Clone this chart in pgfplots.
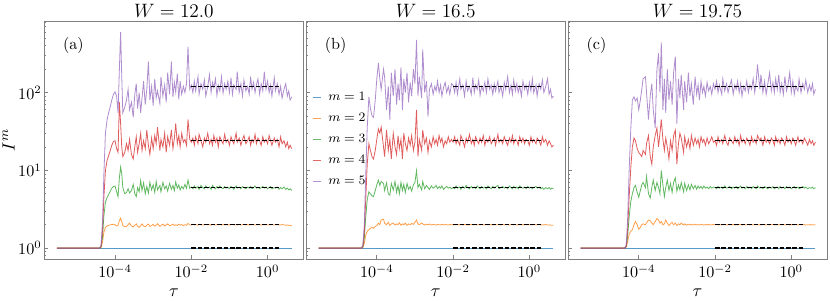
\documentclass[border=0pt]{standalone}
\usepackage{pgfplots}
\usepackage{pgfplotstable}
\pgfplotsset{compat=1.18}
\definecolor{cB}{HTML}{1F77B4}
\definecolor{cO}{HTML}{FF7F0E}
\definecolor{cG}{HTML}{2CA02C}
\definecolor{cR}{HTML}{D62728}
\definecolor{cP}{HTML}{9467BD}
\tikzset{cv/.style={line width=0.5pt, opacity=0.75},
  dsh/.style={black, line width=0.9pt, dash pattern=on 2.8pt off 1.2pt}}

\pgfplotstableread{
t m2 m3 m4 m5
3e-6 1 1 1 1
3.9e-5 1 1 1 1
4.3e-5 1.02 1.04 1.06 1.08
4.7e-5 1.2 1.4 1.7 2.2
5.1e-5 1.6 2.6 4.5 9
5.6e-5 1.85 3.9 10 30
6.2e-5 1.93 4.5 13.5 45
6.8e-5 1.96 4.9 15.5 55
7.5e-5 1.99 5.4 18 66
8.2e-5 2.01 5.9 21 80
9.1e-5 2.03 6.2 23.5 95
1.0e-4 2.0 6.3 24 102
1.1e-4 1.93 5.3 19 90
1.2e-4 1.95 4.6 17 55
1.3e-4 2.25 8 75 200
1.4e-4 2.43 11 40 600
1.5e-4 2.2 9 20 160
1.6e-4 1.95 6 15 55
1.8e-4 1.88 5.0 17 65
2.0e-4 1.9 5.2 22 80
2.2e-4 2.0 5.8 18 110
2.4e-4 2.1 5.1 25 60
2.7e-4 1.92 5.5 16 75
3.0e-4 1.88 6.6 14 48
3.3e-4 1.97 5.0 20 95
3.6e-4 2.05 4.6 27 130
3.9e-4 1.9 6.0 17 62
4.3e-4 1.85 5.3 22 100
4.7e-4 1.95 7.4 30 55
5.1e-4 2.05 5.5 18 85
5.6e-4 1.92 6.9 24 140
6.2e-4 1.88 5.0 19 70
6.8e-4 1.98 6.2 33 110
7.5e-4 2.04 5.1 21 250
8.2e-4 1.9 7.0 16 80
9.1e-4 1.95 5.6 26 120
1.0e-3 2.02 6.5 19 68
1.1e-3 1.92 5.2 28 150
1.2e-3 1.97 7.2 22 85
1.3e-3 2.06 5.6 36 105
1.5e-3 1.9 6.4 18 72
1.6e-3 1.96 5.3 25 160
1.8e-3 2.03 7.0 20 90
2.0e-3 1.93 5.8 30 125
2.2e-3 1.99 6.3 17 75
2.4e-3 2.05 5.4 27 180
2.7e-3 1.94 6.8 21 95
3.0e-3 1.98 5.7 33 250
3.3e-3 2.04 6.4 19 88
3.6e-3 1.95 5.5 26 135
3.9e-3 2.0 7.1 40 102
4.3e-3 1.96 5.9 22 175
4.7e-3 2.03 6.5 28 82
5.1e-3 1.97 5.6 20 140
5.6e-3 2.01 6.2 30 95
6.2e-3 1.95 5.8 23 120
6.8e-3 2.0 6.6 25 100
7.5e-3 1.97 5.9 21 130
8.2e-3 2.08 7.5 45 390
9.1e-3 1.98 5.9 25 110
1.0e-2 1.99 6.1 23 125
1.1e-2 2.02 5.8 26 100
1.2e-2 1.98 6.3 21 140
1.3e-2 2.01 5.9 27 105
1.5e-2 1.97 6.2 22 160
1.6e-2 2.03 5.7 29 95
1.8e-2 1.99 6.4 24 130
2.0e-2 2.0 6.0 20 110
2.2e-2 1.98 5.8 26 145
2.4e-2 2.02 6.3 23 90
2.7e-2 1.99 5.9 30 120
3.0e-2 2.01 6.1 22 170
3.3e-2 1.97 5.7 25 100
3.6e-2 2.02 6.4 21 135
3.9e-2 2.0 6.0 28 115
4.3e-2 1.98 5.8 23 150
4.7e-2 2.01 6.2 26 92
5.1e-2 1.99 5.9 20 125
5.6e-2 2.02 6.3 27 105
6.2e-2 1.98 6.0 24 160
6.8e-2 2.01 5.8 22 98
7.5e-2 1.99 6.2 29 130
8.2e-2 2.0 5.9 23 110
9.1e-2 1.98 6.1 25 140
1.0e-1 2.01 5.8 21 100
1.1e-1 1.99 6.2 27 155
1.2e-1 2.02 6.0 24 95
1.3e-1 1.98 5.7 22 125
1.5e-1 2.0 6.3 30 110
1.6e-1 1.99 5.9 23 185
1.8e-1 2.01 6.1 26 100
2.0e-1 1.98 5.8 21 130
2.2e-1 2.0 6.2 25 90
2.4e-1 2.02 6.0 28 145
2.7e-1 1.99 5.8 22 105
3.0e-1 2.01 6.1 24 120
3.3e-1 1.98 5.9 27 95
3.6e-1 2.0 6.2 21 160
3.9e-1 1.99 5.8 25 110
4.3e-1 2.01 6.0 23 135
4.7e-1 1.98 6.3 29 100
5.1e-1 2.0 5.9 22 125
5.6e-1 1.99 6.1 26 150
6.2e-1 2.01 5.8 24 95
6.8e-1 1.98 6.0 21 130
7.5e-1 2.0 6.2 27 105
8.2e-1 1.99 5.9 23 185
9.1e-1 2.01 6.1 25 110
1.0 1.98 5.8 22 140
1.1 2.0 6.0 28 100
1.2 1.99 6.2 24 125
1.3 2.01 5.8 21 90
1.5 1.98 6.0 26 155
1.6 2.0 5.9 23 105
1.8 1.99 6.1 25 130
2.0 2.0 5.7 20 95
2.2 1.98 6.0 27 120
2.4 2.01 5.8 22 85
2.7 1.99 6.1 24 110
3.0 1.97 5.7 20 130
3.3 1.98 5.9 23 90
3.6 1.96 5.6 19 105
3.9 1.97 5.8 21 80
4.3 1.93 5.5 19 88
}\tabA

\pgfplotstableread{
t m2 m3 m4 m5
3e-6 1 1 1 1
3.9e-5 1 1 1 1
4.3e-5 1.02 1.04 1.06 1.08
4.7e-5 1.15 1.35 1.6 2.0
5.1e-5 1.45 2.4 4.0 8
5.6e-5 1.65 4.2 12 35
6.2e-5 1.72 5.3 22 88
6.8e-5 1.8 5.0 18 62
7.5e-5 1.85 4.7 15 50
8.2e-5 1.8 4.6 14 48
9.1e-5 1.9 5.5 18 80
1.0e-4 1.95 6.5 25 150
1.1e-4 2.1 7.5 34 240
1.2e-4 2.0 6.4 30 150
1.3e-4 2.3 7.2 36 110
1.5e-4 2.35 6.8 20 200
1.6e-4 2.1 5.5 15 160
1.8e-4 2.0 6.9 33 60
2.0e-4 2.15 5.0 18 120
2.2e-4 1.95 4.8 25 45
2.4e-4 2.05 6.8 14 180
2.7e-4 2.1 5.6 30 90
3.0e-4 1.98 7.2 20 200
3.3e-4 2.05 5.2 16 70
3.6e-4 2.0 6.4 28 130
3.9e-4 2.12 5.0 19 80
4.3e-4 1.97 7.0 25 210
4.7e-4 2.05 5.5 14 60
5.1e-4 2.0 6.6 30 150
5.6e-4 2.1 5.2 22 100
6.2e-4 1.96 6.8 18 180
6.8e-4 2.05 5.7 26 75
7.5e-4 2.0 6.2 21 135
8.2e-4 2.08 5.4 28 90
9.1e-4 2.02 6.5 18 200
1.0e-3 2.15 7.0 23 130
1.1e-3 2.3 9.9 60 475
1.2e-3 2.05 6.0 15 90
1.3e-3 2.0 6.6 25 160
1.5e-3 2.1 5.6 18 85
1.6e-3 2.05 7.2 33 360
1.8e-3 1.98 5.8 22 100
2.0e-3 2.03 6.4 26 140
2.2e-3 2.0 6.0 17 49
2.4e-3 2.04 5.7 24 110
2.7e-3 1.98 6.3 20 130
3.0e-3 2.02 5.9 27 95
3.3e-3 2.0 6.1 22 120
3.6e-3 1.98 6.4 25 105
3.9e-3 2.01 5.8 21 140
4.3e-3 2.0 6.2 28 100
4.7e-3 1.99 5.9 23 125
5.1e-3 2.02 6.3 26 90
5.6e-3 1.99 5.7 20 115
6.2e-3 2.01 6.0 24 135
6.8e-3 2.0 6.2 22 100
7.5e-3 1.98 5.9 27 120
8.2e-3 2.01 6.1 23 95
9.1e-3 2.0 5.8 25 130
1.0e-2 2.01 6.0 23 125
1.1e-2 1.98 5.8 27 100
1.2e-2 2.02 6.3 22 135
1.3e-2 1.99 5.9 25 95
1.5e-2 2.01 6.1 21 150
1.6e-2 2.0 5.7 28 110
1.8e-2 1.98 6.2 24 125
2.0e-2 2.02 5.9 20 90
2.2e-2 1.99 6.4 26 140
2.4e-2 2.01 6.0 23 105
2.7e-2 1.98 5.8 29 120
3.0e-2 2.02 6.2 22 95
3.3e-2 2.0 5.9 25 155
3.6e-2 1.99 6.1 21 100
3.9e-2 2.01 5.8 27 125
4.3e-2 1.98 6.3 24 110
4.7e-2 2.02 6.0 22 145
5.1e-2 1.99 5.8 26 92
5.6e-2 2.0 6.2 23 120
6.2e-2 2.01 5.9 28 105
6.8e-2 1.98 6.1 21 135
7.5e-2 2.02 5.8 25 100
8.2e-2 1.99 6.3 23 150
9.1e-2 2.0 6.0 27 110
1.0e-1 2.01 5.8 22 125
1.1e-1 1.98 6.2 24 95
1.2e-1 2.02 5.9 26 130
1.3e-1 1.99 6.1 21 105
1.5e-1 2.0 6.4 29 140
1.6e-1 2.01 5.8 23 100
1.8e-1 1.98 6.0 25 120
2.0e-1 2.02 6.2 22 90
2.2e-1 1.99 5.9 27 135
2.4e-1 2.0 6.1 24 110
2.7e-1 2.01 5.8 21 160
3.0e-1 1.98 6.3 26 100
3.3e-1 2.02 6.0 23 125
3.6e-1 1.99 5.8 28 95
3.9e-1 2.0 6.2 22 145
4.3e-1 2.01 5.9 25 105
4.7e-1 1.98 6.1 24 130
5.1e-1 2.02 5.8 21 100
5.6e-1 1.99 6.3 27 120
6.2e-1 2.0 6.0 23 90
6.8e-1 2.01 5.9 26 140
7.5e-1 1.98 6.1 22 110
8.2e-1 2.02 5.8 25 125
9.1e-1 1.99 6.2 24 95
1.0 2.0 5.9 21 135
1.1 2.01 6.1 27 105
1.2 1.98 5.8 23 150
1.3 2.02 6.0 25 100
1.5 1.99 6.2 22 125
1.6 2.0 5.9 26 90
1.8 2.01 6.1 24 130
2.0 1.98 5.8 21 110
2.2 2.0 6.0 27 145
2.4 1.99 5.7 23 100
2.7 2.01 6.0 25 120
3.0 1.98 5.8 21 150
3.3 1.99 6.0 24 95
3.6 1.98 5.7 22 110
3.9 1.97 5.9 20 85
4.3 1.97 5.8 21 90
}\tabB

\pgfplotstableread{
t m2 m3 m4 m5
3e-6 1 1 1 1
4.3e-5 1 1 1 1
4.7e-5 1.03 1.05 1.07 1.1
5.1e-5 1.2 1.4 1.7 2.3
5.6e-5 1.5 2.5 4.5 10
6.2e-5 1.65 4.0 11 35
6.8e-5 1.72 5.0 20 80
7.5e-5 2.0 6.0 26 88
8.2e-5 2.2 6.4 24 78
9.1e-5 2.0 5.2 19 85
1.0e-4 1.75 4.5 17 60
1.1e-4 1.85 5.5 16 80
1.2e-4 2.0 6.5 15 110
1.3e-4 2.05 7.0 18 150
1.5e-4 2.0 6.0 16 160
1.6e-4 2.1 8.3 22 100
1.8e-4 2.3 5.0 28 45
2.0e-4 2.25 4.4 15 90
2.2e-4 2.1 6.0 12 130
2.4e-4 2.0 7.5 20 60
2.7e-4 2.2 5.5 28 35
3.0e-4 2.4 7.0 35 200
3.3e-4 2.3 6.0 20 320
3.6e-4 2.1 5.0 30 100
3.9e-4 2.2 10 45 440
4.3e-4 2.0 6.5 25 60
4.7e-4 2.05 4.6 18 150
5.1e-4 2.3 6.0 26 55
5.6e-4 2.1 7.5 20 200
6.2e-4 1.95 5.5 14 80
6.8e-4 2.05 6.8 24 140
7.5e-4 2.15 5.2 18 70
8.2e-4 2.0 7.0 28 180
9.1e-4 2.1 8.0 33 290
1.0e-3 1.95 5.4 12 40
1.1e-3 2.05 6.5 22 150
1.2e-3 2.0 5.6 30 85
1.3e-3 2.1 7.0 26 170
1.5e-3 1.98 5.3 17 60
1.6e-3 2.05 6.8 27 140
1.8e-3 1.97 5.5 20 75
2.0e-3 2.03 6.5 25 180
2.2e-3 1.99 5.6 19 90
2.4e-3 2.02 6.6 28 130
2.7e-3 1.98 5.8 21 70
3.0e-3 2.03 6.4 26 160
3.3e-3 1.99 5.7 22 95
3.6e-3 2.01 6.3 25 125
3.9e-3 1.98 5.9 20 80
4.3e-3 2.02 6.2 27 140
4.7e-3 2.0 5.8 23 100
5.1e-3 1.98 6.3 25 120
5.6e-3 2.01 5.9 21 90
6.2e-3 1.99 6.1 26 135
6.8e-3 2.02 5.8 22 105
7.5e-3 1.98 6.2 24 120
8.2e-3 2.0 5.9 27 95
9.1e-3 2.01 6.1 23 130
1.0e-2 1.99 6.0 24 110
1.1e-2 2.02 5.8 21 140
1.2e-2 1.98 6.2 27 100
1.3e-2 2.01 5.9 23 125
1.5e-2 1.99 6.1 25 95
1.6e-2 2.0 5.8 22 150
1.8e-2 2.02 6.3 28 105
2.0e-2 1.98 5.9 23 130
2.2e-2 2.01 6.0 21 100
2.4e-2 1.99 6.2 26 120
2.7e-2 2.0 5.8 24 145
3.0e-2 2.02 6.1 22 95
3.3e-2 1.98 5.9 27 125
3.6e-2 2.01 6.2 23 110
3.9e-2 1.99 5.8 25 140
4.3e-2 2.0 6.0 21 100
4.7e-2 2.02 6.3 28 130
5.1e-2 1.98 5.9 23 90
5.6e-2 2.01 6.1 25 120
6.2e-2 1.99 5.8 22 105
6.8e-2 2.0 6.2 26 140
7.5e-2 2.02 5.9 24 100
8.2e-2 1.98 6.1 21 125
9.1e-2 2.01 5.8 27 110
1.0e-1 1.99 6.2 23 150
1.1e-1 2.0 6.0 25 100
1.2e-1 2.02 5.8 22 135
1.3e-1 1.98 6.3 28 230
1.5e-1 2.01 5.9 24 110
1.6e-1 1.99 6.1 26 170
1.8e-1 2.0 5.8 21 100
2.0e-1 2.02 6.2 27 140
2.2e-1 1.98 6.0 23 95
2.4e-1 2.01 5.8 25 125
2.7e-1 1.99 6.1 22 180
3.0e-1 2.0 5.9 26 105
3.3e-1 2.02 6.2 24 135
3.6e-1 1.98 5.8 21 100
3.9e-1 2.01 6.0 27 150
4.3e-1 1.99 6.1 23 110
4.7e-1 2.0 5.8 25 170
5.1e-1 2.02 6.2 22 100
5.6e-1 1.98 5.9 26 130
6.2e-1 2.01 6.1 24 95
6.8e-1 1.99 5.8 21 160
7.5e-1 2.0 6.2 27 105
8.2e-1 2.02 5.9 23 125
9.1e-1 1.98 6.1 25 180
1.0 2.01 5.8 22 100
1.1 1.99 6.0 26 140
1.2 2.0 6.2 24 95
1.3 2.02 5.9 21 120
1.5 1.98 6.1 27 105
1.6 2.01 5.8 23 150
1.8 1.99 6.0 25 100
2.0 2.0 6.2 22 130
2.2 2.01 5.9 26 110
2.4 1.98 6.1 24 145
2.7 2.0 5.8 21 100
3.0 1.99 6.0 25 125
3.3 2.01 5.9 22 105
3.6 1.98 6.1 24 130
3.9 2.0 5.8 21 95
4.3 1.99 6.0 23 110
}\tabC

\begin{document}
\begin{tikzpicture}
\path[use as bounding box] (-27.5pt,-25.4pt) rectangle (487.1pt,160.6pt);

% panel (a)
\begin{loglogaxis}[at={(0pt,0pt)}, anchor=south west, scale only axis,
    width=160.6pt, height=147.6pt,
    xmin=1.4e-6, xmax=8.7, ymin=0.724, ymax=832,
    xtick={1e-4,1e-2,1}, ytick={1,10,100},
    minor ytick={0.8,0.9,2,3,4,5,6,7,8,9,20,30,40,50,60,70,80,90,200,300,400,500,600,700,800},
    tick align=inside, tick pos=left,
    major tick length=2.2pt, minor tick length=1.3pt,
    axis line style={black!50},
    tick style={black!50, line width=0.4pt},
    title style={font=\fontsize{12}{14}\selectfont, at={(0.5,1)}, anchor=base, yshift=-3.6pt},
    xlabel={$\tau$}, xlabel style={font=\fontsize{10.5}{12}\selectfont},
    title={$W = 12.0$},
    ylabel={$I^m$}, ylabel style={font=\fontsize{11}{13}\selectfont,
      at={(axis description cs:-0.138,0.5)}, anchor=center},
    yticklabel style={inner sep=1.5pt}]
\addplot[cv, cB] coordinates {(3e-6,1) (4.3,1)};
\addplot[cv, cO] table[x=t,y=m2] {\tabA};
\addplot[cv, cG] table[x=t,y=m3] {\tabA};
\addplot[cv, cR] table[x=t,y=m4] {\tabA};
\addplot[cv, cP] table[x=t,y=m5] {\tabA};
\addplot[dsh, forget plot] coordinates {(0.01,1) (2,1)};
\addplot[dsh, forget plot] coordinates {(0.01,2) (2,2)};
\addplot[dsh, forget plot] coordinates {(0.01,6) (2,6)};
\addplot[dsh, forget plot] coordinates {(0.01,24) (2,24)};
\addplot[dsh, forget plot] coordinates {(0.01,120) (2,120)};
\node[anchor=west, font=\fontsize{10}{12}\selectfont] at (rel axis cs:0.05,0.896) {(a)};
\end{loglogaxis}

% panel (b)
\begin{loglogaxis}[at={(162.3pt,0pt)}, anchor=south west, scale only axis,
    width=160.6pt, height=147.6pt,
    xmin=1.4e-6, xmax=8.7, ymin=0.724, ymax=832,
    xtick={1e-4,1e-2,1}, ytick={1,10,100},
    minor ytick={0.8,0.9,2,3,4,5,6,7,8,9,20,30,40,50,60,70,80,90,200,300,400,500,600,700,800},
    tick align=inside, tick pos=left,
    major tick length=2.2pt, minor tick length=1.3pt,
    axis line style={black!50},
    tick style={black!50, line width=0.4pt},
    title style={font=\fontsize{12}{14}\selectfont, at={(0.5,1)}, anchor=base, yshift=-3.6pt},
    xlabel={$\tau$}, xlabel style={font=\fontsize{10.5}{12}\selectfont},
    title={$W = 16.5$}, yticklabels={},
    legend style={draw=none, fill=none, at={(rel axis cs:0.022,0.716)}, anchor=north west,
      font=\fontsize{8.5}{10}\selectfont, inner sep=0pt, row sep=2.4pt,
      /tikz/every odd column/.append style={column sep=2pt}},
    legend cell align=left,
    legend image code/.code={\draw[#1] (0pt,0pt) -- (5.2pt,0pt);}]
\addplot[cv, cB, forget plot] coordinates {(3e-6,1) (4.3,1)};
\addplot[cv, cO, forget plot] table[x=t,y=m2] {\tabB};
\addplot[cv, cG, forget plot] table[x=t,y=m3] {\tabB};
\addplot[cv, cR, forget plot] table[x=t,y=m4] {\tabB};
\addplot[cv, cP, forget plot] table[x=t,y=m5] {\tabB};
\addplot[dsh, forget plot] coordinates {(0.01,1) (2,1)};
\addplot[dsh, forget plot] coordinates {(0.01,2) (2,2)};
\addplot[dsh, forget plot] coordinates {(0.01,6) (2,6)};
\addplot[dsh, forget plot] coordinates {(0.01,24) (2,24)};
\addplot[dsh, forget plot] coordinates {(0.01,120) (2,120)};
\addlegendimage{draw=cB!70, line width=0.8pt}
\addlegendentry{$m=1$}
\addlegendimage{draw=cO!70, line width=0.8pt}
\addlegendentry{$m=2$}
\addlegendimage{draw=cG!70, line width=0.8pt}
\addlegendentry{$m=3$}
\addlegendimage{draw=cR!70, line width=0.8pt}
\addlegendentry{$m=4$}
\addlegendimage{draw=cP!70, line width=0.8pt}
\addlegendentry{$m=5$}
\node[anchor=west, font=\fontsize{10}{12}\selectfont] at (rel axis cs:0.05,0.896) {(b)};
\end{loglogaxis}

% panel (c)
\begin{loglogaxis}[at={(324.7pt,0pt)}, anchor=south west, scale only axis,
    width=160.6pt, height=147.6pt,
    xmin=1.4e-6, xmax=8.7, ymin=0.724, ymax=832,
    xtick={1e-4,1e-2,1}, ytick={1,10,100},
    minor ytick={0.8,0.9,2,3,4,5,6,7,8,9,20,30,40,50,60,70,80,90,200,300,400,500,600,700,800},
    tick align=inside, tick pos=left,
    major tick length=2.2pt, minor tick length=1.3pt,
    axis line style={black!50},
    tick style={black!50, line width=0.4pt},
    title style={font=\fontsize{12}{14}\selectfont, at={(0.5,1)}, anchor=base, yshift=-3.6pt},
    xlabel={$\tau$}, xlabel style={font=\fontsize{10.5}{12}\selectfont},
    title={$W = 19.75$}, yticklabels={}]
\addplot[cv, cB] coordinates {(3e-6,1) (4.3,1)};
\addplot[cv, cO] table[x=t,y=m2] {\tabC};
\addplot[cv, cG] table[x=t,y=m3] {\tabC};
\addplot[cv, cR] table[x=t,y=m4] {\tabC};
\addplot[cv, cP] table[x=t,y=m5] {\tabC};
\addplot[dsh, forget plot] coordinates {(0.01,1) (2,1)};
\addplot[dsh, forget plot] coordinates {(0.01,2) (2,2)};
\addplot[dsh, forget plot] coordinates {(0.01,6) (2,6)};
\addplot[dsh, forget plot] coordinates {(0.01,24) (2,24)};
\addplot[dsh, forget plot] coordinates {(0.01,120) (2,120)};
\node[anchor=west, font=\fontsize{10}{12}\selectfont] at (rel axis cs:0.05,0.896) {(c)};
\end{loglogaxis}
\end{tikzpicture}
\end{document}
